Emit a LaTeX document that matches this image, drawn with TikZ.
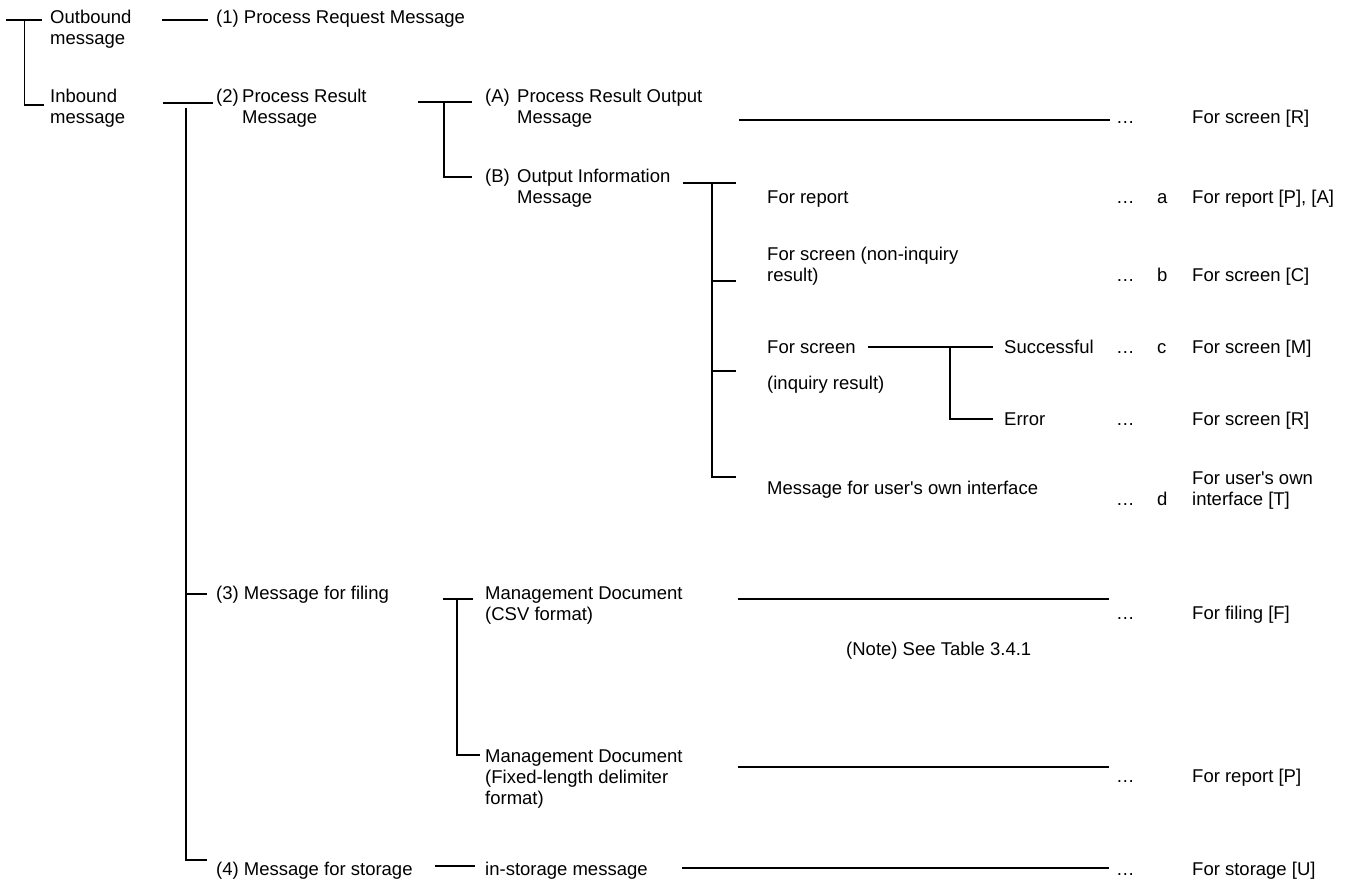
\documentclass[tikz,border=0pt]{standalone}
\usepackage{fontspec}
\setmainfont{Liberation Sans}
\tikzset{
  txt/.style={anchor=base west, inner sep=0pt, align=left},
  brk/.style={line width=1.5pt},
}
\begin{document}
\begin{tikzpicture}[x=1pt, y=-1pt, font=\fontsize{18.5}{21}\selectfont]
	\useasboundingbox (0,0) rectangle (1350,884);
	% Tree of messages (base = last line).
	\coordinate (r0) at (6,20);
	\coordinate (r1) at (42,20);
	\coordinate (rj) at (24.5,20);
	\coordinate (rb) at (24.5,105);
	\coordinate (rc) at (44,105);
	\draw[brk] (r0) -- (r1);
	\draw[brk] (rj) -- (rb) -- (rc);
	\node[txt] (out) at (50,44) {Outbound\\message};
	\node[txt] (in) at (50,123) {Inbound\\message};
	\node[txt] (p1) at (216,23) {(1) Process Request Message};
	\node[txt] (p2) at (216,102) {(2)};
	\node[txt] (p2t) at (242,123) {Process Result\\Message};
	\node[txt] (p3) at (216,599) {(3) Message for filing};
	\node[txt] (p4) at (216,875) {(4) Message for storage};
	\draw[brk] (162,20) -- (208,20);
	\draw[brk] (163,103) -- (213,103);
	\coordinate (m0) at (186,108);
	\coordinate (m3) at (186,594);
	\coordinate (m4) at (186,860);
	\draw[brk] (m0) -- (m4) -- (207,860);
	\draw[brk] (m3) -- (207,594);
	% (A) and (B).
	\node[txt] (pa) at (485,102) {(A)};
	\node[txt] (pat) at (517,123) {Process Result Output\\Message};
	\node[txt] (pb) at (485,182) {(B)};
	\node[txt] (pbt) at (517,203) {Output Information\\Message};
	\coordinate (ab0) at (444,102);
	\coordinate (ab1) at (444,177);
	\draw[brk] (418,102) -- (472,102);
	\draw[brk] (ab0) -- (ab1) -- (472,177);
	\draw[brk] (739,120) -- (1110,120);
	% Output information.
	\coordinate (b0) at (712,183);
	\coordinate (b1) at (712,281);
	\coordinate (b2) at (712,371);
	\coordinate (b3) at (712,477);
	\draw[brk] (683,183) -- (736,183);
	\draw[brk] (b0) -- (b3) -- (736,477);
	\draw[brk] (b1) -- (736,281);
	\draw[brk] (b2) -- (736,371);
	\node[txt] (rep) at (767,203) {For report};
	\node[txt] (scn) at (767,281) {For screen (non-inquiry\\result)};
	\node[txt] (scq) at (767,353) {For screen};
	\node[txt] (scq2) at (767,389) {(inquiry result)};
	\node[txt] (own) at (767,494) {Message for user\textquotesingle s own interface};
	\node[txt] (suc) at (1004,353) {Successful};
	\node[txt] (err) at (1004,425) {Error};
	\coordinate (q0) at (950,347);
	\coordinate (q1) at (950,419);
	\draw[brk] (868,347) -- (993,347);
	\draw[brk] (q0) -- (q1) -- (993,419);
	% Filing and storage.
	\node[txt] (csv) at (485,620) {Management Document\\(CSV format)};
	\node[txt] (fix) at (485,804) {Management Document\\(Fixed-length delimiter\\format)};
	\node[txt] (sto) at (485,875) {in-storage message};
	\node[txt] (note) at (846,655) {(Note) See Table 3.4.1};
	\coordinate (f0) at (457,599);
	\coordinate (f1) at (457,755);
	\draw[brk] (443,599) -- (473,599);
	\draw[brk] (f0) -- (f1) -- (480,755);
	\draw[brk] (435,866) -- (475,866);
	\draw[brk] (738,599) -- (1109,599);
	\draw[brk] (738,767) -- (1109,767);
	\draw[brk] (682,868) -- (1109,868);
	% Dots, letters and uses.
	\foreach \y in {123,203,281,353,425,505,619,782,875}
		\node[txt] at (1116,\y) {…};
	\foreach \y/\l in {203/a,281/b,353/c,505/d}
		\node[txt] at (1157,\y) {\l};
	\node[txt] (u1) at (1192,123) {For screen [R]};
	\node[txt] (u2) at (1192,203) {For report [P], [A]};
	\node[txt] (u3) at (1192,281) {For screen [C]};
	\node[txt] (u4) at (1192,353) {For screen [M]};
	\node[txt] (u5) at (1192,425) {For screen [R]};
	\node[txt] (u6) at (1192,505) {For user\textquotesingle s own\\interface [T]};
	\node[txt] (u7) at (1192,619) {For filing [F]};
	\node[txt] (u8) at (1192,782) {For report [P]};
	\node[txt] (u9) at (1192,875) {For storage [U]};
\end{tikzpicture}
\end{document}
